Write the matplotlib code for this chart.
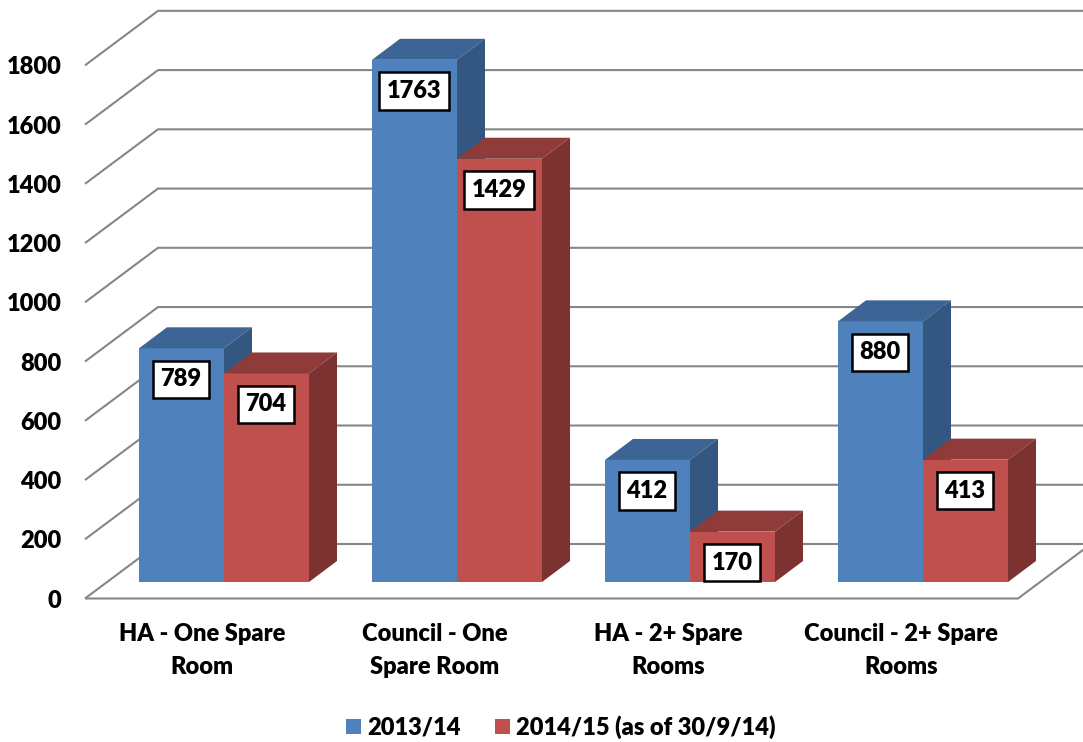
import matplotlib
matplotlib.use("Agg")
import matplotlib.pyplot as plt

categories = ["HA - One Spare\nRoom", "Council - One\nSpare Room", "HA - 2+ Spare\nRooms", "Council - 2+ Spare\nRooms"]
series_names = ["2013/14", "2014/15 (as of 30/9/14)"]
values_2013 = [789, 1763, 412, 880]
values_2014 = [704, 1429, 170, 413]
y_ticks = [0, 200, 400, 600, 800, 1000, 1200, 1400, 1600, 1800]

W, H = 1083, 742
GROUP_PX, X0_PX = 233.0, 224.0
Y0_PX, SCALE = 582.0, 0.2962
FONT = 17.0
TEXT = "#000000"
GRID = "#868686"

plt.rcParams["font.family"] = ["Lato", "DejaVu Sans"]
plt.rcParams["font.weight"] = "heavy"

fig = plt.figure(figsize=(W / 100, H / 100), dpi=100)
ax = fig.add_axes([0, 0, 1, 1])
ax.set_xlim(-X0_PX / GROUP_PX, (W - X0_PX) / GROUP_PX)
ax.set_ylim((Y0_PX - H) / SCALE, Y0_PX / SCALE)
ax.axis("off")

dxu = 1 / GROUP_PX          # data units per horizontal pixel
dyu = 1 / SCALE             # data units per vertical pixel
bar_w = 85 * dxu
depth_x, depth_y = 28 * dxu, 21 * dyu
wall_x, wall_y = 73 * dxu, 54.5 * dyu
front_x = (85 - X0_PX) * dxu
floor_right = (1018 - X0_PX) * dxu
front_zero = -16.5 * dyu

grid_kw = dict(color=GRID, lw=1.5, zorder=1, solid_capstyle="butt", solid_joinstyle="miter")
for t in y_ticks:
    y = front_zero + t
    ax.plot([front_x, front_x + wall_x, ax.get_xlim()[1]], [y, y + wall_y, y + wall_y], **grid_kw)
    ax.text(front_x - 23.5 * dxu, y, str(t), ha="right", va="center_baseline", fontsize=FONT, color=TEXT)
ax.plot([front_x, floor_right, floor_right + wall_x], [front_zero, front_zero, front_zero + wall_y], **grid_kw)


def bar3d(x, v, front, top, side, label=None):
    ax.bar(x, v, width=bar_w, align="edge", color=front, zorder=3, label=label, lw=0)
    ax.fill([x, x + depth_x, x + bar_w + depth_x, x + bar_w],
            [v, v + depth_y, v + depth_y, v], color=top, lw=0, zorder=3)
    ax.fill([x + bar_w, x + bar_w + depth_x, x + bar_w + depth_x, x + bar_w],
            [0, depth_y, v + depth_y, v], color=side, lw=0, zorder=3)
    ax.text(x + bar_w / 2 - 0.5 * dxu, v - 29.0 * dyu, str(v), ha="center", va="center_baseline",
            fontsize=FONT, color=TEXT, zorder=6,
            bbox=dict(boxstyle="square,pad=0.33", fc="white", ec="black", lw=1.8))


for i in range(len(categories)):
    # the red bar of a group is in front of the blue bar's side, so blue goes first
    bar3d(i - bar_w, values_2013[i], "#4F81BD", "#3C6595", "#335780", series_names[0] if i == 0 else None)
    ax.text(i - 22 * dxu, -68.5 * dyu, categories[i], ha="center", va="center", fontsize=FONT,
            color=TEXT, linespacing=1.6)
for i in range(len(categories)):
    bar3d(i, values_2014[i], "#C0504D", "#8F3B39", "#7B3231", series_names[1] if i == 0 else None)

ax.legend(loc="center", bbox_to_anchor=(561 / W, 1 - 727 / H), bbox_transform=fig.transFigure, ncol=2,
          frameon=False, fontsize=FONT, handlelength=0.62, handleheight=0.62, handletextpad=0.28,
          columnspacing=1.45, labelcolor=TEXT)

fig.savefig("out.png", dpi=100)
